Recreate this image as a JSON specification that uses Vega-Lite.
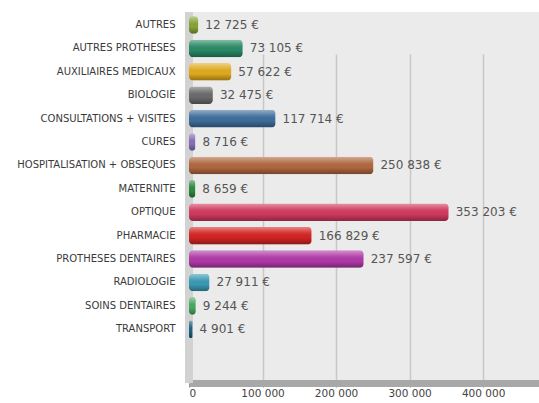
{
  "$schema": "https://vega.github.io/schema/vega-lite/v6.json",
  "autosize": {"type": "none"},
  "width": 350,
  "height": 371,
  "padding": {"left": 189, "top": 12, "right": 0, "bottom": 20},
  "background": "#ffffff",
  "config": {
    "locale": {"number": {"decimal": ",", "thousands": " ", "grouping": [3], "currency": ["", " €"]}},
    "view": {"fill": "#ebebeb", "stroke": null},
    "font": "DejaVu Sans"
  },
  "data": {"values": [
    {"poste": "AUTRES", "montant": 12725},
    {"poste": "AUTRES PROTHESES", "montant": 73105},
    {"poste": "AUXILIAIRES MEDICAUX", "montant": 57622},
    {"poste": "BIOLOGIE", "montant": 32475},
    {"poste": "CONSULTATIONS + VISITES", "montant": 117714},
    {"poste": "CURES", "montant": 8716},
    {"poste": "HOSPITALISATION + OBSEQUES", "montant": 250838},
    {"poste": "MATERNITE", "montant": 8659},
    {"poste": "OPTIQUE", "montant": 353203},
    {"poste": "PHARMACIE", "montant": 166829},
    {"poste": "PROTHESES DENTAIRES", "montant": 237597},
    {"poste": "RADIOLOGIE", "montant": 27911},
    {"poste": "SOINS DENTAIRES", "montant": 9244},
    {"poste": "TRANSPORT", "montant": 4901}
  ]},
  "encoding": {
    "y": {
      "field": "poste", "type": "nominal", "sort": null,
      "scale": {"range": [1.3, 329], "paddingInner": 0.25, "paddingOuter": 0.125},
      "axis": {"title": null, "ticks": false, "domain": false, "labelFontSize": 10, "labelColor": "#3a3a3a", "labelPadding": 14, "labelFont": "DejaVu Sans"}
    },
    "x": {
      "field": "montant", "type": "quantitative",
      "scale": {"domain": [0, 476000], "nice": false},
      "axis": {"title": null, "values": [0, 100000, 200000, 300000, 400000], "format": ",d", "grid": true, "gridColor": "#c8c8c8", "gridWidth": 1.5, "domainColor": "#a8a8a8", "domainWidth": 7, "tickColor": "#888", "tickSize": 4, "labelFontSize": 10.5, "labelColor": "#444", "labelPadding": 1}
    }
  },
  "layer": [
    {
      "mark": {"type": "rule", "color": "#d2d2d2", "strokeWidth": 8},
      "encoding": {"x": {"datum": 0}, "y": null}
    },
    {
      "mark": {"type": "bar", "cornerRadius": 4},
      "encoding": {
        "color": {
          "field": "poste", "type": "nominal", "legend": null,
          "scale": {
            "domain": ["AUTRES", "AUTRES PROTHESES", "AUXILIAIRES MEDICAUX", "BIOLOGIE", "CONSULTATIONS + VISITES", "CURES", "HOSPITALISATION + OBSEQUES", "MATERNITE", "OPTIQUE", "PHARMACIE", "PROTHESES DENTAIRES", "RADIOLOGIE", "SOINS DENTAIRES", "TRANSPORT"],
            "range": ["#86a436", "#2a8a66", "#e0aa1e", "#6b6b6b", "#3e6e9c", "#8870b8", "#b0683f", "#2e8a3e", "#d23a5e", "#d42424", "#b03aa8", "#3a9ab4", "#4aa860", "#1e6080"]
          }
        }
      }
    },
    {
      "mark": {"type": "bar", "cornerRadius": 4, "color": {"gradient": "linear", "x1": 0, "y1": 0, "x2": 0, "y2": 1, "stops": [
        {"offset": 0, "color": "rgba(255,255,255,0.45)"},
        {"offset": 0.3, "color": "rgba(255,255,255,0.12)"},
        {"offset": 0.6, "color": "rgba(0,0,0,0)"},
        {"offset": 1, "color": "rgba(0,0,0,0.35)"}
      ]}}
    },
    {
      "mark": {"type": "text", "align": "left", "baseline": "middle", "dx": 7, "fontSize": 12, "color": "#555555"},
      "encoding": {"text": {"field": "montant", "type": "quantitative", "format": "$,.0f"}}
    }
  ]
}
